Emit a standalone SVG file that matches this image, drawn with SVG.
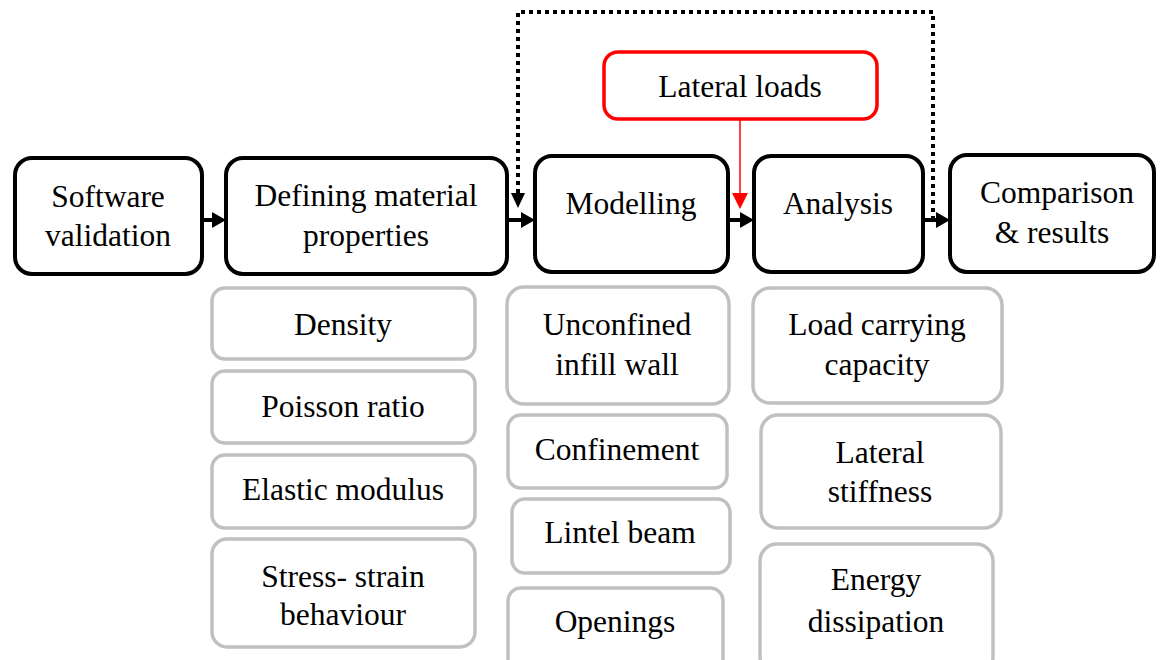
<svg xmlns="http://www.w3.org/2000/svg" width="1161" height="660" viewBox="0 0 1161 660">
<defs>
<style>
.main{fill:#fff;stroke:#000;stroke-width:4}
.sub{fill:#fff;stroke:#c0c0c0;stroke-width:3.5}
.red{fill:#fff;stroke:#ff0000;stroke-width:3.5}
text{font-family:"Liberation Serif","Times New Roman",serif;font-size:31.5px;fill:#000;text-anchor:middle}
.conn{fill:none;stroke:#000;stroke-width:4}
.dot{fill:none;stroke:#000;stroke-width:4;stroke-dasharray:4 4}
.redline{fill:none;stroke:#ff0000;stroke-width:1.5}
</style>
<marker id="ah" markerUnits="userSpaceOnUse" markerWidth="14" markerHeight="16" refX="0" refY="8" orient="auto"><path d="M0,0 L14,8 L0,16 z" fill="#000"/></marker>
<marker id="ahr" markerUnits="userSpaceOnUse" markerWidth="16" markerHeight="16" refX="0" refY="8" orient="auto"><path d="M0,0 L16,8 L0,16 z" fill="#ff0000"/></marker>
</defs>
<rect width="1161" height="660" fill="#fff"/>
<g id="connectors">
<path class="conn" d="M202,220 H212" marker-end="url(#ah)"/>
<path class="conn" d="M507,220 H521" marker-end="url(#ah)"/>
<path class="conn" d="M730,220 H740" marker-end="url(#ah)"/>
<path class="conn" d="M923,220 H936" marker-end="url(#ah)"/>
<path class="dot" d="M518,193 V12 H933 V218"/>
<path d="M511,193 L525,193 L518,208 z" fill="#000"/>
<path class="redline" d="M740,119 V193" marker-end="url(#ahr)"/>
</g>
<g id="lateral-loads"><rect class="red" x="604" y="52" width="273" height="67" rx="14"/><text x="740" y="97">Lateral loads</text></g>
<g id="software-validation"><rect class="main" x="15" y="158" width="187" height="116" rx="17"/><text x="108" y="207">Software</text><text x="108" y="246">validation</text></g>
<g id="defining-material"><rect class="main" x="226" y="158" width="281" height="116" rx="17"/><text x="366" y="206">Defining material</text><text x="366" y="246">properties</text></g>
<g id="modelling"><rect class="main" x="535" y="156" width="193" height="116" rx="17"/><text x="631" y="214">Modelling</text></g>
<g id="analysis"><rect class="main" x="754" y="156" width="169" height="116" rx="17"/><text x="838" y="214">Analysis</text></g>
<g id="comparison"><rect class="main" x="950" y="155" width="204" height="117" rx="17"/><text x="1057" y="203">Comparison</text><text x="1052" y="243">&amp; results</text></g>
<g id="density"><rect class="sub" x="212" y="288" width="263" height="71" rx="13"/><text x="343" y="335">Density</text></g>
<g id="poisson"><rect class="sub" x="212" y="371" width="263" height="72" rx="13"/><text x="343" y="417">Poisson ratio</text></g>
<g id="elastic"><rect class="sub" x="212" y="455" width="263" height="73" rx="13"/><text x="343" y="500">Elastic modulus</text></g>
<g id="stress-strain"><rect class="sub" x="212" y="539" width="263" height="108" rx="15"/><text x="343" y="587">Stress- strain</text><text x="343" y="625">behaviour</text></g>
<g id="unconfined"><rect class="sub" x="507" y="287" width="222" height="117" rx="17"/><text x="617" y="335">Unconfined</text><text x="617" y="375">infill wall</text></g>
<g id="confinement"><rect class="sub" x="508" y="415" width="219" height="73" rx="13"/><text x="617" y="460">Confinement</text></g>
<g id="lintel"><rect class="sub" x="512" y="499" width="218" height="74" rx="13"/><text x="620" y="543">Lintel beam</text></g>
<g id="openings"><rect class="sub" x="508" y="588" width="215" height="90" rx="13"/><text x="615" y="632">Openings</text></g>
<g id="load-capacity"><rect class="sub" x="753" y="288" width="249" height="115" rx="17"/><text x="877" y="335">Load carrying</text><text x="877" y="375">capacity</text></g>
<g id="lateral-stiffness"><rect class="sub" x="761" y="415" width="240" height="113" rx="17"/><text x="880" y="463">Lateral</text><text x="880" y="502">stiffness</text></g>
<g id="energy"><rect class="sub" x="760" y="544" width="233" height="130" rx="17"/><text x="876" y="590">Energy</text><text x="876" y="632">dissipation</text></g>
</svg>
